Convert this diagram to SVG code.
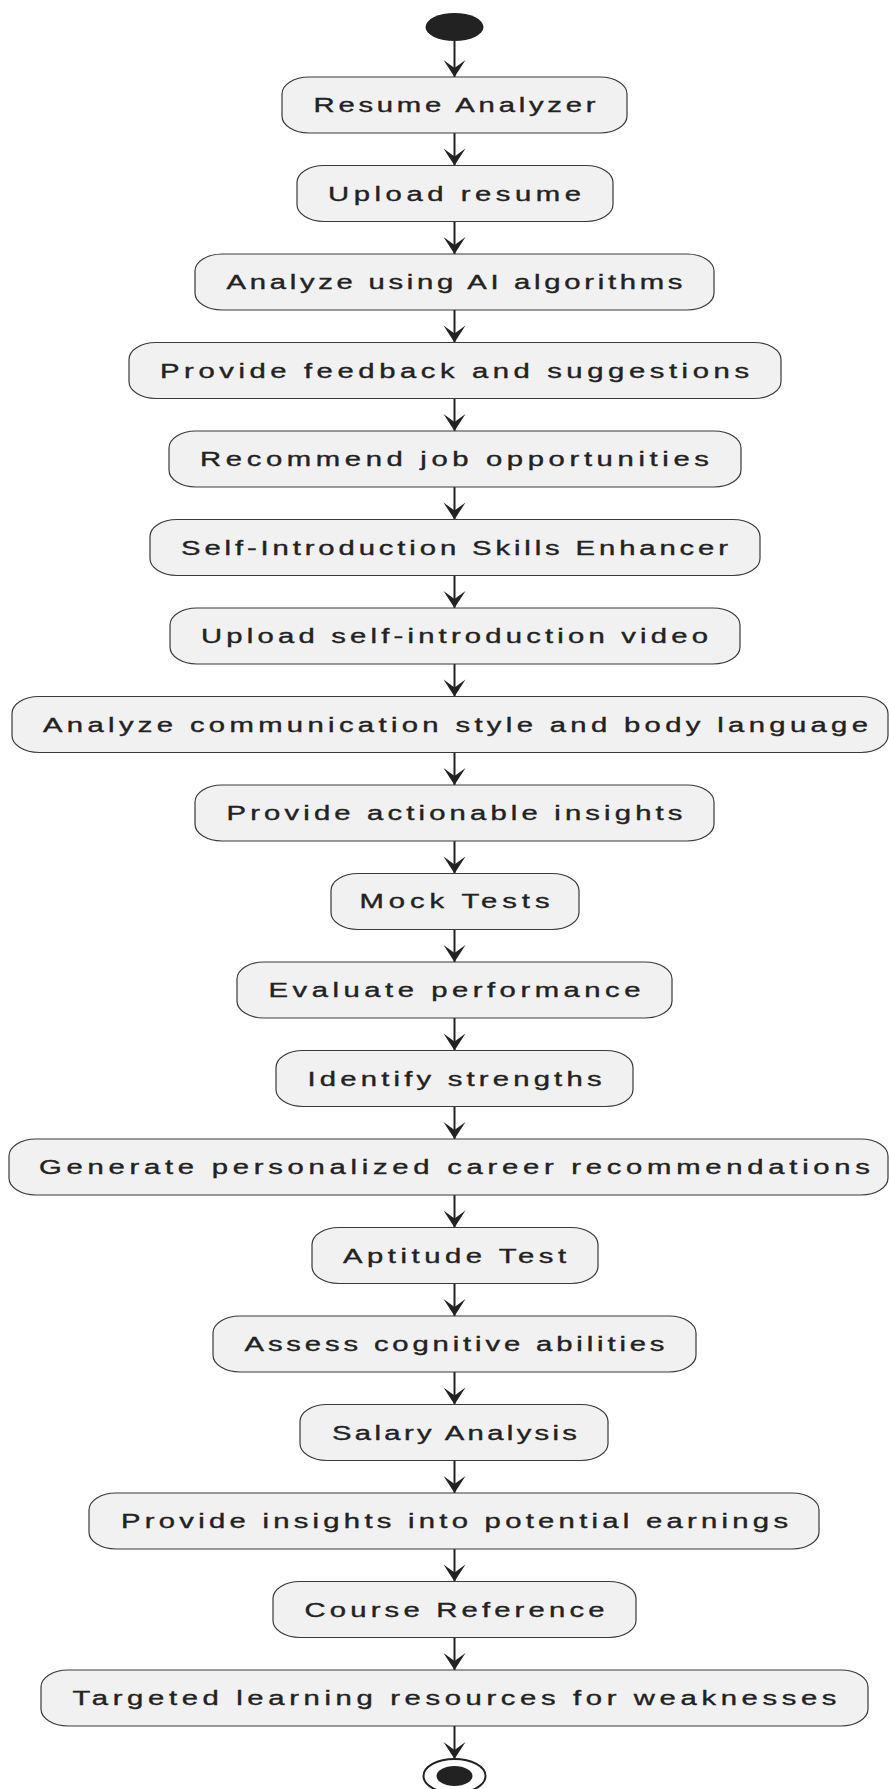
<svg xmlns="http://www.w3.org/2000/svg" width="889" height="1789" viewBox="0 0 889 1789">
<style>
.box{fill:#F1F1F1;stroke:#3a3a3a;stroke-width:1.2}
.lbl{font-family:"Liberation Sans",Arial,sans-serif;font-size:19.5px;fill:#222;stroke:#222;stroke-width:0.35;text-anchor:middle}
.edge{stroke:#222;stroke-width:2;fill:none}
</style>
<rect width="889" height="1789" fill="#fff"/>
<g id="start"><ellipse cx="454.5" cy="27" rx="29" ry="14" fill="#222"/></g>
<g id="connectors">
<path class="edge" d="M454.5,41 V77"/>
<path class="edge" d="M454.5,133 V165.5"/>
<path class="edge" d="M454.5,221.5 V254"/>
<path class="edge" d="M454.5,310 V342.5"/>
<path class="edge" d="M454.5,398.5 V431"/>
<path class="edge" d="M454.5,487 V519.5"/>
<path class="edge" d="M454.5,575.5 V608"/>
<path class="edge" d="M454.5,664 V696.5"/>
<path class="edge" d="M454.5,752.5 V785"/>
<path class="edge" d="M454.5,841 V873.5"/>
<path class="edge" d="M454.5,929.5 V962"/>
<path class="edge" d="M454.5,1018 V1050.5"/>
<path class="edge" d="M454.5,1106.5 V1139"/>
<path class="edge" d="M454.5,1195 V1227.5"/>
<path class="edge" d="M454.5,1283.5 V1316"/>
<path class="edge" d="M454.5,1372 V1404.5"/>
<path class="edge" d="M454.5,1460.5 V1493"/>
<path class="edge" d="M454.5,1549 V1581.5"/>
<path class="edge" d="M454.5,1637.5 V1670"/>
<path class="edge" d="M454.5,1726 V1759"/>
<g fill="#222">
<path d="M443.5,60 L454.5,77 L465.5,60 L454.5,68 Z"/>
<path d="M443.5,148.5 L454.5,165.5 L465.5,148.5 L454.5,156.5 Z"/>
<path d="M443.5,237 L454.5,254 L465.5,237 L454.5,245 Z"/>
<path d="M443.5,325.5 L454.5,342.5 L465.5,325.5 L454.5,333.5 Z"/>
<path d="M443.5,414 L454.5,431 L465.5,414 L454.5,422 Z"/>
<path d="M443.5,502.5 L454.5,519.5 L465.5,502.5 L454.5,510.5 Z"/>
<path d="M443.5,591 L454.5,608 L465.5,591 L454.5,599 Z"/>
<path d="M443.5,679.5 L454.5,696.5 L465.5,679.5 L454.5,687.5 Z"/>
<path d="M443.5,768 L454.5,785 L465.5,768 L454.5,776 Z"/>
<path d="M443.5,856.5 L454.5,873.5 L465.5,856.5 L454.5,864.5 Z"/>
<path d="M443.5,945 L454.5,962 L465.5,945 L454.5,953 Z"/>
<path d="M443.5,1033.5 L454.5,1050.5 L465.5,1033.5 L454.5,1041.5 Z"/>
<path d="M443.5,1122 L454.5,1139 L465.5,1122 L454.5,1130 Z"/>
<path d="M443.5,1210.5 L454.5,1227.5 L465.5,1210.5 L454.5,1218.5 Z"/>
<path d="M443.5,1299 L454.5,1316 L465.5,1299 L454.5,1307 Z"/>
<path d="M443.5,1387.5 L454.5,1404.5 L465.5,1387.5 L454.5,1395.5 Z"/>
<path d="M443.5,1476 L454.5,1493 L465.5,1476 L454.5,1484 Z"/>
<path d="M443.5,1564.5 L454.5,1581.5 L465.5,1564.5 L454.5,1572.5 Z"/>
<path d="M443.5,1653 L454.5,1670 L465.5,1653 L454.5,1661 Z"/>
<path d="M443.5,1742 L454.5,1759 L465.5,1742 L454.5,1750 Z"/>
</g>
</g>
<g id="n0"><rect class="box" x="282" y="77" width="345" height="56" rx="27" ry="17"/><text class="lbl" transform="translate(454.5,112) scale(1.5,1)" textLength="188" lengthAdjust="spacing">Resume Analyzer</text></g>
<g id="n1"><rect class="box" x="297" y="165.5" width="316" height="56" rx="27" ry="17"/><text class="lbl" transform="translate(454.5,200.5) scale(1.5,1)" textLength="168.7" lengthAdjust="spacing">Upload resume</text></g>
<g id="n2"><rect class="box" x="195" y="254" width="519" height="56" rx="27" ry="17"/><text class="lbl" transform="translate(454.5,289) scale(1.5,1)" textLength="304" lengthAdjust="spacing">Analyze using AI algorithms</text></g>
<g id="n3"><rect class="box" x="129" y="342.5" width="652" height="56" rx="27" ry="17"/><text class="lbl" transform="translate(454.5,377.5) scale(1.5,1)" textLength="392.7" lengthAdjust="spacing">Provide feedback and suggestions</text></g>
<g id="n4"><rect class="box" x="169" y="431" width="572" height="56" rx="27" ry="17"/><text class="lbl" transform="translate(454.5,466) scale(1.5,1)" textLength="339.3" lengthAdjust="spacing">Recommend job opportunities</text></g>
<g id="n5"><rect class="box" x="150" y="519.5" width="610" height="56" rx="27" ry="17"/><text class="lbl" transform="translate(454.5,554.5) scale(1.5,1)" textLength="364.7" lengthAdjust="spacing">Self-Introduction Skills Enhancer</text></g>
<g id="n6"><rect class="box" x="170" y="608" width="570" height="56" rx="27" ry="17"/><text class="lbl" transform="translate(454.5,643) scale(1.5,1)" textLength="338" lengthAdjust="spacing">Upload self-introduction video</text></g>
<g id="n7"><rect class="box" x="12" y="696.5" width="876" height="56" rx="27" ry="17"/><text class="lbl" transform="translate(455.5,731.5) scale(1.5,1)" textLength="550" lengthAdjust="spacing">Analyze communication style and body language</text></g>
<g id="n8"><rect class="box" x="195" y="785" width="519" height="56" rx="27" ry="17"/><text class="lbl" transform="translate(454.5,820) scale(1.5,1)" textLength="304" lengthAdjust="spacing">Provide actionable insights</text></g>
<g id="n9"><rect class="box" x="331" y="873.5" width="248" height="56" rx="27" ry="17"/><text class="lbl" transform="translate(454.5,908) scale(1.5,1)" textLength="126.7" lengthAdjust="spacing">Mock Tests</text></g>
<g id="n10"><rect class="box" x="237" y="962" width="435" height="56" rx="27" ry="17"/><text class="lbl" transform="translate(454.5,997) scale(1.5,1)" textLength="248" lengthAdjust="spacing">Evaluate performance</text></g>
<g id="n11"><rect class="box" x="276" y="1050.5" width="357" height="56" rx="27" ry="17"/><text class="lbl" transform="translate(454.5,1085.5) scale(1.5,1)" textLength="196" lengthAdjust="spacing">Identify strengths</text></g>
<g id="n12"><rect class="box" x="9" y="1139" width="879" height="56" rx="27" ry="17"/><text class="lbl" transform="translate(454.5,1174) scale(1.5,1)" textLength="554" lengthAdjust="spacing">Generate personalized career recommendations</text></g>
<g id="n13"><rect class="box" x="312" y="1227.5" width="286" height="56" rx="27" ry="17"/><text class="lbl" transform="translate(454.5,1262.5) scale(1.5,1)" textLength="148.7" lengthAdjust="spacing">Aptitude Test</text></g>
<g id="n14"><rect class="box" x="213" y="1316" width="483" height="56" rx="27" ry="17"/><text class="lbl" transform="translate(454.5,1351) scale(1.5,1)" textLength="280" lengthAdjust="spacing">Assess cognitive abilities</text></g>
<g id="n15"><rect class="box" x="300" y="1404.5" width="308" height="56" rx="27" ry="17"/><text class="lbl" transform="translate(454.5,1439.5) scale(1.5,1)" textLength="163.3" lengthAdjust="spacing">Salary Analysis</text></g>
<g id="n16"><rect class="box" x="89" y="1493" width="730" height="56" rx="27" ry="17"/><text class="lbl" transform="translate(454.5,1528) scale(1.5,1)" textLength="444.7" lengthAdjust="spacing">Provide insights into potential earnings</text></g>
<g id="n17"><rect class="box" x="273" y="1581.5" width="363" height="56" rx="27" ry="17"/><text class="lbl" transform="translate(454.5,1616.5) scale(1.5,1)" textLength="200" lengthAdjust="spacing">Course Reference</text></g>
<g id="n18"><rect class="box" x="41" y="1670" width="827" height="56" rx="27" ry="17"/><text class="lbl" transform="translate(454.5,1705) scale(1.5,1)" textLength="509.3" lengthAdjust="spacing">Targeted learning resources for weaknesses</text></g>
<g id="end"><ellipse cx="454.5" cy="1776" rx="31" ry="17" fill="#fff" stroke="#222" stroke-width="2"/><ellipse cx="454.5" cy="1776" rx="18" ry="10" fill="#222"/></g>
</svg>
